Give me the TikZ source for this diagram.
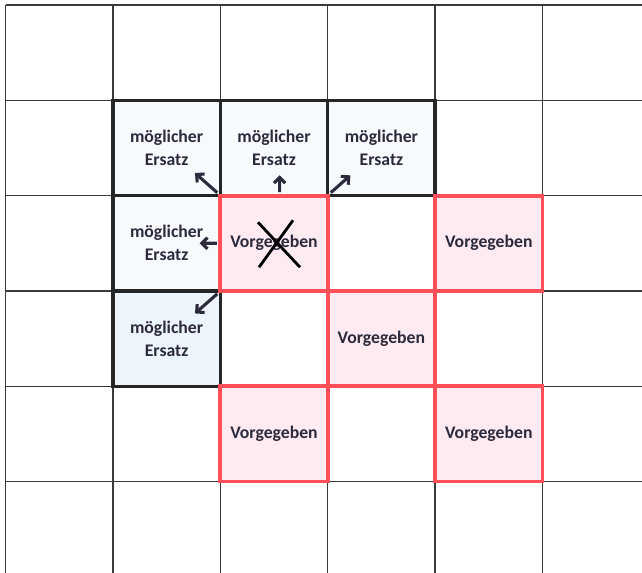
\documentclass[tikz,border=0pt]{standalone}
\usepackage{fontspec}
\setmainfont{Carlito}
\usetikzlibrary{arrows.meta,positioning,calc}
\definecolor{GridGray}{HTML}{3A3A3A}
\definecolor{MarkRed}{HTML}{FF4F58}
\definecolor{SoftPink}{HTML}{FDEBF1}
\definecolor{SoftBlue}{HTML}{EDF5FC}
\definecolor{PaleBlue}{HTML}{F7FAFD}
\definecolor{InkDark}{HTML}{2C2A3C}

\begin{document}
\begin{tikzpicture}[x=0.025cm,y=-0.025cm,
  cell/.style={inner sep=0pt,minimum width=2.685cm,minimum height=2.3825cm,align=center,font=\bfseries\fontsize{12.6}{16.4}\selectfont,text=InkDark},
  given/.style={cell,draw=MarkRed,line width=2.8pt,fill=SoftPink},
  cand/.style={cell,draw=black!85,line width=2.4pt,fill=PaleBlue},
  gridline/.style={GridGray,line width=0.9pt},
  cross/.style={black,line width=2pt},
  arr/.style={-{Straight Barb[length=4pt,width=8pt]},line width=2.2pt,InkDark,shorten <=1pt}
]
  \clip (0,0) rectangle (642,572);
  \fill[white] (0,0) rectangle (642,572);
  % raster
  \foreach \i in {0,...,6} \draw[gridline] (5.5+107.4*\i,5) -- (5.5+107.4*\i,580);
  \foreach \j in {0,...,6} \draw[gridline] (5.5,5+95.3*\j) -- (650,5+95.3*\j);
  % candidate cells
  \node[cand] (e11) at (166.6,147.95) {möglicher\\Ersatz};
  \node[cand] (e21) at (274,147.95) {möglicher\\Ersatz};
  \node[cand] (e31) at (381.4,147.95) {möglicher\\Ersatz};
  \node[cand] (e12) at (166.6,243.25) {möglicher\\Ersatz};
  \node[cand,fill=SoftBlue] (e13) at (166.6,338.55) {möglicher\\Ersatz};
  % given cells
  \node[given] (v22) at (274,243.25) {Vorgegeben};
  \node[given] (v42) at (488.8,243.25) {Vorgegeben};
  \node[given] (v33) at (381.4,338.55) {Vorgegeben};
  \node[given] (v24) at (274,433.85) {Vorgegeben};
  \node[given] (v44) at (488.8,433.85) {Vorgegeben};
  % removed value
  \draw[cross] ($(v22.center)+(-16,-21)$) -- ($(v22.center)+(26,24)$);
  \draw[cross] ($(v22.center)+(19,-23)$) -- ($(v22.center)+(-15,24)$);
  % moves
  \draw[arr] (v22.north west) -- ($(v22.north west)!0.45!(e11.center)$);
  \draw[arr] ([xshift=4pt]v22.north) -- ([xshift=4pt]$(v22.north)!0.4!(e21.center)$);
  \draw[arr] (v22.north east) -- ($(v22.north east)!0.4!(e31.center)$);
  \draw[arr] (v22.west) -- ($(v22.west)!0.36!(e12.center)$);
  \draw[arr] (v22.south west) -- ($(v22.south west)!0.45!(e13.center)$);
\end{tikzpicture}
\end{document}
